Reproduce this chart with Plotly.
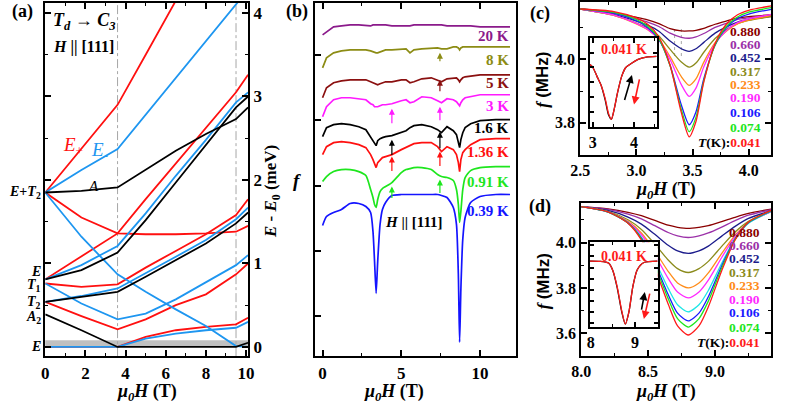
import plotly.graph_objects as go

W, H = 789, 408
SERIF = "Liberation Serif"
SANS = "Liberation Sans"
RED = "#ff1010"
BLUE = "#1e96f0"
BLACK = "#000000"

# ---------------- panel (a): energy levels ----------------
Ha = [0, 1.8, 3.6, 5, 6.5, 8, 9.5, 10.1]
a_red_Eplus = [1.85, 2.37, 2.90, 3.50, 4.15, 4.80, 5.40, 5.70]
a_red_2 = [1.85, 1.55, 1.36, 1.35, 1.35, 1.36, 1.38, 1.45]
a_red_3 = [0.81, 1.08, 1.36, 1.77, 2.20, 2.62, 3.05, 3.26]
a_red_4 = [0.76, 0.72, 0.75, 0.95, 1.15, 1.35, 1.58, 1.77]
a_red_5 = [0.54, 0.37, 0.21, 0.33, 0.50, 0.63, 0.87, 1.00]
a_red_6 = [0.00, 0.00, 0.00, 0.12, 0.20, 0.24, 0.27, 0.35]
a_blue_Eminus = [1.85, 2.12, 2.37, 2.78, 3.22, 3.66, 4.10, 4.28]
a_blue_2 = [1.85, 1.32, 0.87, 0.66, 0.45, 0.25, 0.01, 0.00]
a_blue_3 = [0.81, 0.98, 1.21, 1.60, 2.05, 2.48, 2.93, 3.05]
a_blue_4 = [0.76, 0.52, 0.33, 0.40, 0.57, 0.77, 0.98, 1.10]
a_blue_5 = [0.54, 0.61, 0.70, 0.88, 1.08, 1.28, 1.53, 1.67]
a_blue_6 = [0.00, 0.00, 0.00, 0.10, 0.16, 0.20, 0.23, 0.30]
a_black_A = [1.85, 1.87, 1.91, 2.12, 2.35, 2.55, 2.73, 2.87]
a_black_2 = [0.81, 0.92, 1.13, 1.52, 1.97, 2.42, 2.87, 3.00]
a_black_3 = [0.54, 0.60, 0.66, 0.84, 1.04, 1.24, 1.48, 1.61]
a_black_4 = [0.39, 0.20, 0.00, 0.00, 0.00, 0.00, 0.00, 0.05]
a_crossings = [3.6, 9.5]
a_band_top = 0.08
a_level_names = ["<i>E</i>+<i>T</i><sub>2</sub>", "<i>E</i>", "<i>T</i><sub>1</sub>",
                 "<i>T</i><sub>2</sub>", "<i>A</i><sub>2</sub>", "<i>E</i>"]

# ---------------- panel (b): f vs field, offset ----------------
Hb = [0, 0.25, 0.7, 1.2, 1.75, 2.3, 2.75, 3.05, 3.2, 3.3, 3.4, 3.5, 3.65, 3.8, 4.0, 4.4,
      5.0, 5.3, 5.55, 5.8, 6.3, 6.9, 7.3, 7.55, 7.9, 8.3, 8.5, 8.62, 8.7, 8.78, 8.9, 9.05,
      9.4, 10.0, 11.0, 11.9]
b_039 = [131, 140, 144, 147, 153, 153, 150, 144, 125, 95, 63, 95, 132, 147, 154, 161, 162, 162,
         162, 162, 162, 162, 162, 161, 159, 149, 132, 82, 14, 67, 117, 139, 154, 160, 162, 162]
b_091 = [175, 180, 185, 187, 187, 185, 181, 167, 159, 152, 149, 157, 165, 168, 170, 174, 184, 187,
         188, 189, 189, 187, 182, 180, 179, 176, 167, 152, 134, 145, 167, 179, 186, 189, 190, 190]
b_136 = [202, 210, 214, 215, 214, 212, 209, 202, 197, 192, 189, 194, 197, 199, 200, 202, 207, 209,
         211, 213, 214, 214, 210, 205, 210, 207, 202, 194, 185, 197, 204, 207, 212, 217, 218, 218]
b_16 = [220, 229, 232, 233, 232, 230, 227, 220, 216, 213, 211, 216, 218, 219, 220, 221, 224, 226,
        229, 231, 232, 230, 227, 224, 230, 226, 222, 214, 209, 217, 224, 229, 233, 236, 237, 237]
b_3 = [240, 250, 257, 259, 259, 258, 257, 253, 252, 250, 250, 250, 251, 252, 252, 253, 256, 257,
       254, 255, 260, 259, 256, 254, 258, 257, 255, 252, 251, 254, 257, 259, 260, 262, 262, 262]
b_5 = [259, 269, 274, 276, 277, 277, 277, 275, 274, 273, 272, 272, 273, 274, 275, 275, 277, 277,
       274, 275, 278, 279, 277, 275, 278, 279, 279, 277, 275, 277, 279, 280, 281, 282, 282, 282]
b_8 = [289, 299, 304, 306, 307, 307, 307, 306, 305, 304, 304, 304, 305, 306, 307, 307, 308, 308,
       304, 307, 308, 309, 309, 308, 308, 310, 310, 309, 307, 309, 310, 310, 310, 310, 310, 310]
b_20 = [322, 325, 330, 331, 332, 332, 331, 331, 332, 332, 332, 332, 332, 332, 332, 331, 331, 331,
        331, 332, 332, 332, 332, 332, 331, 331, 331, 331, 331, 331, 331, 331, 331, 330, 330, 330]
b_labels = ["20 K", "8 K", "5 K", "3 K", "1.6 K", "1.36 K", "0.91 K", "0.39 K"]
b_colors = ["#8b1a8b", "#8c8c14", "#8b1010", "#ff1aff", "#000000", "#ff1010", "#1ee61e", "#1414ff"]
# arrows: field, head, tail (same arbitrary f units)
b_arrow_H = [7.45, 7.45, 4.4, 7.45, 4.4, 7.45, 4.4, 7.45, 4.4, 7.45]
b_arrow_head = [304, 277, 248, 250, 217, 225, 200, 205, 170, 177]
b_arrow_tail = [294, 264, 232, 235, 200, 207, 184, 189, 157, 162]
b_arrow_col = [1, 2, 3, 3, 4, 4, 5, 5, 6, 6]

# ---------------- panel (c) ----------------
Hc = [2.5, 2.8, 3.0, 3.1, 3.2, 3.3, 3.4, 3.47, 3.53, 3.6, 3.7, 3.8, 3.9, 4.0, 4.2]
c_041 = [4.158, 4.150, 4.130, 4.110, 4.070, 3.981, 3.832, 3.756, 3.804, 3.929, 4.049, 4.110, 4.140, 4.154, 4.168]
c_074 = [4.158, 4.147, 4.125, 4.104, 4.065, 3.979, 3.842, 3.772, 3.817, 3.932, 4.045, 4.103, 4.133, 4.148, 4.162]
c_106 = [4.158, 4.145, 4.121, 4.100, 4.062, 3.981, 3.856, 3.794, 3.834, 3.939, 4.044, 4.099, 4.128, 4.142, 4.157]
c_190 = [4.158, 4.139, 4.113, 4.094, 4.061, 3.999, 3.920, 3.883, 3.909, 3.976, 4.048, 4.090, 4.115, 4.127, 4.141]
c_233 = [4.158, 4.138, 4.111, 4.093, 4.063, 4.008, 3.945, 3.918, 3.938, 3.991, 4.052, 4.088, 4.111, 4.123, 4.137]
c_317 = [4.158, 4.138, 4.114, 4.098, 4.073, 4.031, 3.991, 3.975, 3.988, 4.022, 4.065, 4.093, 4.112, 4.122, 4.134]
c_452 = [4.158, 4.140, 4.120, 4.107, 4.088, 4.057, 4.033, 4.025, 4.033, 4.053, 4.082, 4.102, 4.117, 4.125, 4.135]
c_660 = [4.158, 4.144, 4.127, 4.117, 4.103, 4.082, 4.069, 4.066, 4.070, 4.081, 4.100, 4.113, 4.125, 4.130, 4.138]
c_880 = [4.158, 4.146, 4.132, 4.124, 4.112, 4.096, 4.089, 4.089, 4.091, 4.097, 4.110, 4.120, 4.129, 4.134, 4.140]
c_marks = [3.34, 3.40]

# inset of (c)
Hci = [2.93, 3.0, 3.1, 3.2, 3.3, 3.38, 3.45, 3.52, 3.6, 3.7, 3.8, 3.95, 4.1, 4.3, 4.55]
ci_up = [4.12, 4.10, 4.04, 3.98, 3.88, 3.78, 3.75, 3.82, 3.93, 4.04, 4.10, 4.13, 4.155, 4.17, 4.175]
ci_down = [4.12, 4.10, 4.04, 3.98, 3.89, 3.79, 3.75, 3.82, 3.93, 4.04, 4.10, 4.13, 4.155, 4.17, 4.175]

# ---------------- panel (d) ----------------
Hd = [8.0, 8.2, 8.35, 8.45, 8.55, 8.65, 8.72, 8.8, 8.88, 8.95, 9.05, 9.15, 9.25, 9.42]
d_041 = [4.158, 4.135, 4.085, 4.011, 3.887, 3.729, 3.633, 3.593, 3.633, 3.717, 3.876, 4.011, 4.090, 4.141]
d_074 = [4.158, 4.135, 4.086, 4.016, 3.899, 3.753, 3.665, 3.628, 3.665, 3.742, 3.888, 4.014, 4.089, 4.140]
d_106 = [4.158, 4.135, 4.086, 4.019, 3.909, 3.771, 3.689, 3.655, 3.689, 3.761, 3.897, 4.016, 4.088, 4.139]
d_cyan = [4.158, 4.134, 4.086, 4.023, 3.921, 3.798, 3.726, 3.695, 3.726, 3.789, 3.909, 4.016, 4.085, 4.137]
d_190 = [4.158, 4.135, 4.090, 4.034, 3.946, 3.842, 3.782, 3.756, 3.782, 3.834, 3.934, 4.026, 4.087, 4.136]
d_233 = [4.158, 4.135, 4.093, 4.042, 3.963, 3.873, 3.822, 3.800, 3.822, 3.866, 3.952, 4.032, 4.088, 4.136]
d_317 = [4.158, 4.137, 4.100, 4.057, 3.993, 3.923, 3.885, 3.868, 3.885, 3.917, 3.983, 4.046, 4.093, 4.137]
d_452 = [4.158, 4.141, 4.112, 4.081, 4.036, 3.988, 3.963, 3.952, 3.963, 3.984, 4.028, 4.071, 4.106, 4.140]
d_660 = [4.158, 4.146, 4.125, 4.104, 4.074, 4.044, 4.029, 4.022, 4.029, 4.042, 4.068, 4.096, 4.120, 4.145]
d_880 = [4.158, 4.148, 4.133, 4.118, 4.097, 4.076, 4.067, 4.062, 4.067, 4.074, 4.092, 4.111, 4.128, 4.147]

# inset of (d)
Hdi = [7.98, 8.2, 8.4, 8.5, 8.6, 8.7, 8.78, 8.86, 8.95, 9.05, 9.2, 9.51]
di_up = [4.158, 4.156, 4.14, 4.07, 3.91, 3.70, 3.593, 3.70, 3.93, 4.08, 4.145, 4.158]
di_down = [4.158, 4.156, 4.14, 4.07, 3.92, 3.71, 3.593, 3.70, 3.93, 4.08, 4.145, 4.158]

T_labels = ["0.880", "0.660", "0.452", "0.317", "0.233", "0.190", "0.106", "0.074"]
T_colors = ["#8b0000", "#9b30a8", "#1c1c8c", "#8b8b1c", "#ff8c1a", "#ff2aff", "#1a1aff", "#1ee61e"]
CYAN = "#1ee6e6"
T_cold_color = "#ff1a1a"

fig = go.Figure()


def line(x, y, color, xa, ya, width=1.8, shape="linear", smoothing=1.0):
    ln = dict(color=color, width=width, shape=shape)
    if shape == "spline":
        ln["smoothing"] = smoothing
    fig.add_trace(go.Scatter(x=x, y=y, mode="lines", line=ln, xaxis=xa, yaxis=ya,
                             showlegend=False, hoverinfo="skip"))


# (a)
for ys in [a_red_Eplus, a_red_2, a_red_3, a_red_4, a_red_5, a_red_6]:
    line(Ha, ys, RED, "x", "y")
for ys in [a_blue_Eminus, a_blue_2, a_blue_3, a_blue_4, a_blue_5, a_blue_6]:
    line(Ha, ys, BLUE, "x", "y")
for ys in [a_black_A, a_black_2, a_black_3, a_black_4]:
    line(Ha, ys, BLACK, "x", "y")

# (b)
b_series = [b_20, b_8, b_5, b_3, b_16, b_136, b_091, b_039]
for i, ys in enumerate(b_series):
    smooth = i >= 6
    line(Hb, ys, b_colors[i], "x2", "y2", width=1.7,
         shape="spline" if smooth else "linear", smoothing=0.6)

# (c)
c_series = [c_880, c_660, c_452, c_317, c_233, c_190, c_106, c_074]
for ys, col in zip(c_series, T_colors):
    line(Hc, ys, col, "x3", "y3", width=1.3, shape="spline", smoothing=0.7)
line(Hc, c_041, T_cold_color, "x3", "y3", width=1.3, shape="spline", smoothing=0.7)

# (d)
d_series = [d_880, d_660, d_452, d_317, d_233, d_190, d_cyan, d_106, d_074]
d_cols = T_colors[:6] + [CYAN] + T_colors[6:]
for ys, col in zip(d_series, d_cols):
    line(Hd, ys, col, "x4", "y4", width=1.3, shape="spline", smoothing=0.7)
line(Hd, d_041, T_cold_color, "x4", "y4", width=1.3, shape="spline", smoothing=0.7)

# inset backgrounds + curves
ci_xr = [2.93, 4.55]
ci_yr = [3.70, 4.30]
di_xr = [7.98, 9.51]
di_yr = [3.566, 4.325]
for (xr, yr, xa, ya) in [(ci_xr, ci_yr, "x5", "y5"), (di_xr, di_yr, "x6", "y6")]:
    fig.add_trace(go.Scatter(x=[xr[0], xr[1], xr[1], xr[0], xr[0]],
                             y=[yr[0], yr[0], yr[1], yr[1], yr[0]],
                             fill="toself", fillcolor="white", mode="lines",
                             line=dict(width=0, color="white"), xaxis=xa, yaxis=ya,
                             showlegend=False, hoverinfo="skip"))
line(Hci, ci_up, BLACK, "x5", "y5", width=1.3, shape="spline", smoothing=0.7)
line(Hci, ci_down, T_cold_color, "x5", "y5", width=1.3, shape="spline", smoothing=0.7)
line(Hdi, di_up, BLACK, "x6", "y6", width=1.3, shape="spline", smoothing=0.7)
line(Hdi, di_down, T_cold_color, "x6", "y6", width=1.3, shape="spline", smoothing=0.7)


def dom_x(p0, p1):
    return [p0 / W, p1 / W]


def dom_y(top, bottom):
    return [1 - bottom / H, 1 - top / H]


TICKFONT = dict(family=SERIF, size=17, color="black", weight="bold")
TICKFONT_S = dict(family=SERIF, size=16, color="black", weight="bold")


def axis(**kw):
    d = dict(showline=True, linewidth=2, linecolor="black", mirror="allticks",
             ticks="inside", ticklen=6, tickwidth=1.5, tickcolor="black",
             showgrid=False, zeroline=False, tickfont=TICKFONT)
    d.update(kw)
    return d


def minor(dt, ln=3):
    return dict(ticks="inside", ticklen=ln, tickwidth=1.2, tickcolor="black", dtick=dt, showgrid=False)


fig.update_layout(
    width=W, height=H, autosize=False,
    margin=dict(l=0, r=0, t=0, b=0),
    paper_bgcolor="white", plot_bgcolor="white",
    showlegend=False,
    xaxis=axis(domain=dom_x(36, 243), range=[0, 10.1], anchor="y", tickvals=[0, 2, 4, 6, 8, 10],
               minor=minor(1)),
    yaxis=axis(domain=dom_y(3, 357), range=[-0.11, 4.12], anchor="x", side="right",
               tickvals=[0, 1, 2, 3, 4], minor=minor(0.5)),
    xaxis2=axis(domain=dom_x(311, 516), range=[-0.5, 12.25], anchor="y2", tickvals=[0, 5, 10],
                minor=minor(2.5)),
    yaxis2=axis(domain=dom_y(3, 357), range=[0, 354], anchor="x2", tick0=40, dtick=65.5,
                showticklabels=False, mirror=True),
    xaxis3=axis(domain=dom_x(582, 777), range=[2.5, 4.2], anchor="y3", dtick=0.5, tick0=2.5,
                tickformat=".1f", minor=minor(0.25), tickfont=TICKFONT_S),
    yaxis3=axis(domain=dom_y(2, 155), range=[3.70, 4.18], anchor="x3", dtick=0.2, tick0=3.8,
                tickformat=".1f", minor=minor(0.1), tickfont=TICKFONT_S),
    xaxis4=axis(domain=dom_x(583, 777), range=[8.0, 9.42], anchor="y4", dtick=0.5, tick0=8.0,
                tickformat=".1f", minor=minor(0.25), tickfont=TICKFONT_S),
    yaxis4=axis(domain=dom_y(203, 357), range=[3.50, 4.176], anchor="x4", dtick=0.2, tick0=3.6,
                tickformat=".1f", minor=minor(0.1), tickfont=TICKFONT_S),
    xaxis5=axis(domain=dom_x(592, 660), range=ci_xr, anchor="y5", tickvals=[3, 4], minor=minor(0.5),
                ticklen=5, tickfont=TICKFONT_S),
    yaxis5=axis(domain=dom_y(38, 127), range=ci_yr, anchor="x5", dtick=0.1, showticklabels=False,
                ticklen=4),
    xaxis6=axis(domain=dom_x(592, 661), range=di_xr, anchor="y6", tickvals=[8, 9], minor=minor(0.5),
                ticklen=5, tickfont=TICKFONT_S),
    yaxis6=axis(domain=dom_y(243, 328), range=di_yr, anchor="x6", dtick=0.1, showticklabels=False,
                ticklen=4),
)

shapes = []
shapes.append(dict(type="rect", xref="x domain", yref="y", x0=0, x1=1, y0=0, y1=a_band_top,
                   fillcolor="#c0c0c0", line=dict(width=0), layer="below"))
for xc in a_crossings:
    shapes.append(dict(type="line", xref="x", yref="y domain", x0=xc, x1=xc, y0=0, y1=1,
                       line=dict(color="#a6a6a6", width=1, dash="dashdot"), layer="below"))
for xc in c_marks:
    shapes.append(dict(type="line", xref="x3", yref="y3", x0=xc, x1=xc, y0=4.01, y1=4.10,
                       line=dict(color="#a6a6a6", width=1, dash="dot"), layer="below"))
fig.update_layout(shapes=shapes)

ann = []


def txt(x, y, text, size=15, color="black", xanchor="center", family=SERIF, angle=0):
    ann.append(dict(x=x / W, y=1 - y / H, xref="paper", yref="paper", text=text, showarrow=False,
                    font=dict(family=family, size=size, color=color), xanchor=xanchor,
                    yanchor="middle", textangle=angle))


# panel letters
txt(13, 12, "<b>(a)</b>", 18)
txt(293, 12, "<b>(b)</b>", 18)
txt(541, 14, "<b>(c)</b>", 18)
txt(541, 207, "<b>(d)</b>", 18)

# axis titles
mu0H = "<b><i>μ<sub>0</sub>H</i> (T)</b>"
txt(140, 393, mu0H, 18)
txt(392, 393, mu0H, 18)
txt(670, 191, mu0H, 18)
txt(670, 393, mu0H, 18)
txt(267, 192, "<b><i>E</i> - <i>E</i><sub>0</sub> (meV)</b>", 17, angle=-90)
txt(293, 181, "<b><i>f</i></b>", 19)
fMHz = "<b><i>f</i> <span style='font-family:Liberation Sans'>(MHz)</span></b>"
txt(544, 80, fMHz, 17, angle=-90)
txt(544, 282, fMHz, 17, angle=-90)

# (a) text
txt(42, 22, "<b><i>T<sub>d</sub></i> → <i>C<sub>3</sub></i></b>", 18, xanchor="left")
txt(42, 47, "<b><i>H</i> || [111]</b>", 16, xanchor="left")
txt(64, 146, "<i>E</i><sub>+</sub>", 19, color=RED)
txt(91, 151, "<i>E</i><sub>-</sub>", 19, color=BLUE)
txt(85, 186, "<i>A</i>", 15)
a_label_y = [193, 272, 286, 303, 318, 347]
for name, yy in zip(a_level_names, a_label_y):
    txt(34, yy, "<b>" + name + "</b>", 14, xanchor="right")

# (b) labels
b_label_y = [36, 60, 83, 106, 128, 152, 182, 212]
for lab, col, yy in zip(b_labels, b_colors, b_label_y):
    txt(511, yy, "<b>" + lab + "</b>", 15, color=col, xanchor="right")
txt(412, 223, "<b><i>H</i> || [111]</b>", 15)

# (b) arrows
for hx, hh, tt, ci in zip(b_arrow_H, b_arrow_head, b_arrow_tail, b_arrow_col):
    ann.append(dict(x=hx, y=hh, ax=hx, ay=tt, xref="x2", yref="y2", axref="x2", ayref="y2",
                    showarrow=True, arrowhead=2, arrowsize=1.0, arrowwidth=1.2,
                    arrowcolor=b_colors[ci], text=""))

# (c), (d) temperature labels
c_label_y = [32, 45, 58, 72, 85, 98, 113, 128]
d_label_y = [233, 246, 259, 273, 286, 300, 313, 328]
for lab, col, yy in zip(T_labels, T_colors, c_label_y):
    txt(769, yy, "<b>" + lab + "</b>", 13.5, color=col, xanchor="right")
for lab, col, yy in zip(T_labels, T_colors, d_label_y):
    txt(768, yy, "<b>" + lab + "</b>", 13.5, color=col, xanchor="right")
cold = "<b><i>T</i>(K):<span style='color:%s'>0.041</span></b>" % T_cold_color
txt(769, 143, cold, 13.5, xanchor="right")
txt(768, 343, cold, 13.5, xanchor="right")

# insets labels
txt(627, 50, "<b>0.041 K</b>", 14, color=T_cold_color)
txt(627, 257, "<b>0.041 K</b>", 14, color=T_cold_color)

# inset arrows: (c) black up, red down; (d) black up, red down
inset_arrows = [
    ("x5", "y5", 3.95, 4.05, 3.76, 3.87, BLACK),
    ("x5", "y5", 4.00, 3.85, 4.14, 4.03, T_cold_color),
    ("x6", "y6", 9.22, 3.88, 9.14, 3.71, BLACK),
    ("x6", "y6", 9.20, 3.64, 9.34, 3.88, T_cold_color),
]
for xa, ya, hx, hy, tx, ty, col in inset_arrows:
    ann.append(dict(x=hx, y=hy, ax=tx, ay=ty, xref=xa, yref=ya, axref=xa, ayref=ya,
                    showarrow=True, arrowhead=2, arrowsize=1.0, arrowwidth=1.6,
                    arrowcolor=col, text=""))

fig.update_layout(annotations=ann)

fig.write_html("out.html", config={"displayModeBar": False},
               post_script="document.body.style.margin='0';")
